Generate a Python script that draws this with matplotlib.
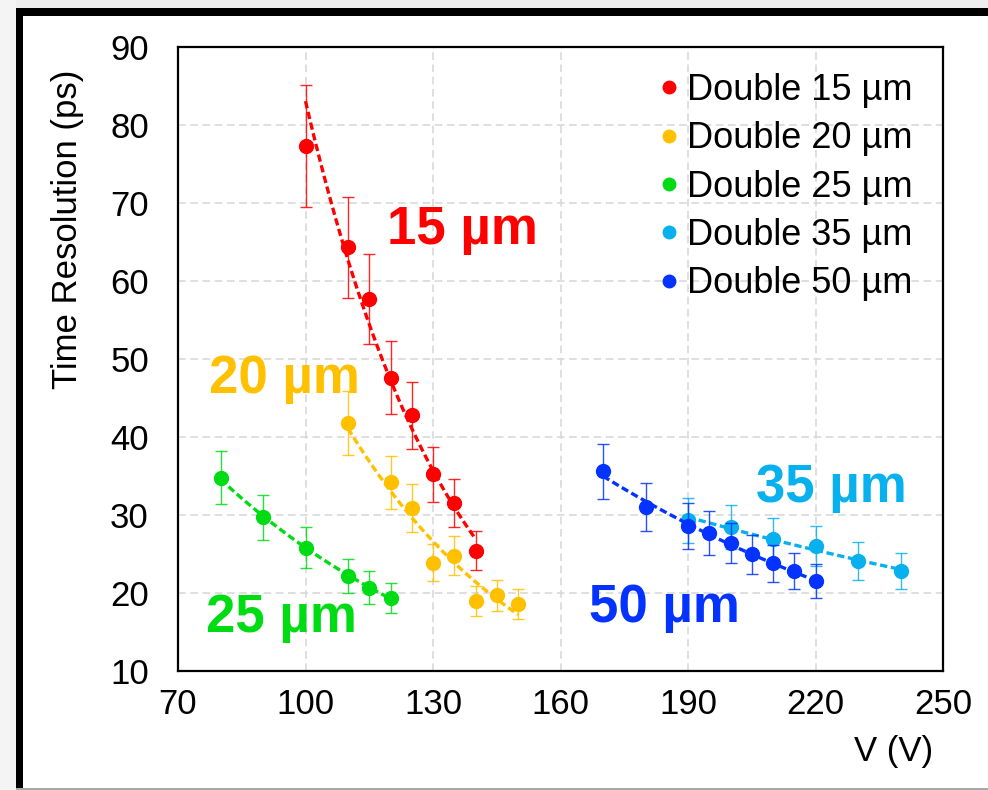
import matplotlib
matplotlib.use('Agg')
import matplotlib.pyplot as plt
from matplotlib.patches import Rectangle
import numpy as np

plt.rcParams['font.family'] = ['Liberation Sans', 'DejaVu Sans']

# data: bias voltage (V), time resolution (ps), error (ps)
v15 = [100, 110, 115, 120, 125, 130, 135, 140]
t15 = [77.3, 64.3, 57.7, 47.6, 42.8, 35.2, 31.5, 25.4]
e15 = [7.8, 6.5, 5.8, 4.7, 4.3, 3.5, 3.1, 2.5]

v20 = [110, 120, 125, 130, 135, 140, 145, 150]
t20 = [41.8, 34.2, 30.9, 23.9, 24.8, 19.0, 19.7, 18.6]
e20 = [4.1, 3.4, 3.1, 2.4, 2.5, 1.9, 2.0, 1.9]

v25 = [80, 90, 100, 110, 115, 120]
t25 = [34.8, 29.7, 25.8, 22.2, 20.7, 19.4]
e25 = [3.4, 2.9, 2.6, 2.2, 2.1, 1.9]

v35 = [190, 200, 210, 220, 230, 240]
t35 = [29.3, 28.5, 26.9, 26.0, 24.1, 22.8]
e35 = [2.9, 2.8, 2.7, 2.6, 2.4, 2.3]

v50 = [170, 180, 190, 195, 200, 205, 210, 215, 220]
t50 = [35.6, 31.0, 28.6, 27.7, 26.4, 25.0, 23.8, 22.8, 21.5]
e50 = [3.5, 3.1, 2.9, 2.8, 2.6, 2.5, 2.4, 2.3, 2.2]

labels = ["Double 15 µm", "Double 20 µm", "Double 25 µm", "Double 35 µm", "Double 50 µm"]
tags = ["15 µm", "20 µm", "25 µm", "35 µm", "50 µm"]
colors = ["#ff0000", "#ffc000", "#00dc14", "#08b0ee", "#0433ff"]
# where the big coloured tags sit (V, ps)
tag_x = [119.2, 77.2, 76.6, 206.0, 166.8]
tag_y = [64.8, 45.6, 15.0, 31.7, 16.3]

xticks = [70, 100, 130, 160, 190, 220, 250]
yticks = [10, 20, 30, 40, 50, 60, 70, 80, 90]

W, H = 988, 790
fig = plt.figure(figsize=(W / 100, H / 100), dpi=100)
fig.patch.set_facecolor('#eeeeee')


def px_rect(x0, y0, x1, y1, color):
	fig.add_artist(Rectangle((x0 / W, 1 - y1 / H), (x1 - x0) / W, (y1 - y0) / H,
		transform=fig.transFigure, color=color, zorder=-10, lw=0))


# window-like frame round the chart
px_rect(0, 0, 16, 790, '#f4f4f4')
px_rect(16, 8, 988, 790, '#a8a8a8')
px_rect(16, 8, 988, 788, 'white')
px_rect(16, 8, 988, 16, 'black')
px_rect(16, 8, 23, 788, 'black')

ax = fig.add_axes([178 / W, 1 - 671 / H, 765 / W, 624 / H])

series = [(v15, t15, e15), (v20, t20, e20), (v25, t25, e25), (v35, t35, e35), (v50, t50, e50)]
for i, (v, t, e) in enumerate(series):
	c = colors[i]
	ax.errorbar(v, t, yerr=e, fmt='none', ecolor=c, elinewidth=1.0, capsize=4,
		capthick=1.0, alpha=0.85, zorder=3 + i)
	ax.plot(v, t, 'o', color=c, ms=10, label=labels[i], zorder=3 + i)
	# exponential trend line
	p = np.polyfit(v, np.log(t), 1)
	vv = np.linspace(v[0], v[-1], 100)
	ax.plot(vv, np.exp(np.polyval(p, vv)), color=c, lw=2.4, ls=(0, (2.2, 1.1)), zorder=3.5 + i)
	ax.text(tag_x[i], tag_y[i], tags[i], color=c, fontsize=38, fontweight='bold',
		ha='left', va='baseline', zorder=10)

ax.set_xlim(70, 250)
ax.set_ylim(10, 90)
ax.set_xticks(xticks)
ax.set_yticks(yticks)
ax.tick_params(length=0, labelsize=25)
ax.tick_params(axis='x', pad=12)
ax.tick_params(axis='y', pad=21)
ax.grid(True, color='#d6d6d6', lw=1.1, ls=(0, (5, 3)))
ax.set_axisbelow(True)
for s in ax.spines.values():
	s.set_linewidth(1.6)
	s.set_color('black')

ax.set_xlabel("V (V)", fontsize=25, loc='right')
ax.xaxis.set_label_coords((933 - 178) / 765, (671 - 735) / 624)
ax.set_ylabel("Time Resolution (ps)", fontsize=25)
ax.yaxis.set_label_coords((84 - 178) / 765, (671 - 229) / 624)

ax.legend(loc='upper left', bbox_to_anchor=(658 / W, 1 - 73 / H), bbox_transform=fig.transFigure,
	frameon=False, fontsize=26, handlelength=0.6, handletextpad=0.2, labelspacing=0.37,
	borderpad=0, borderaxespad=0, markerscale=0.9)

fig.savefig("out.png", dpi=100, facecolor=fig.get_facecolor())
